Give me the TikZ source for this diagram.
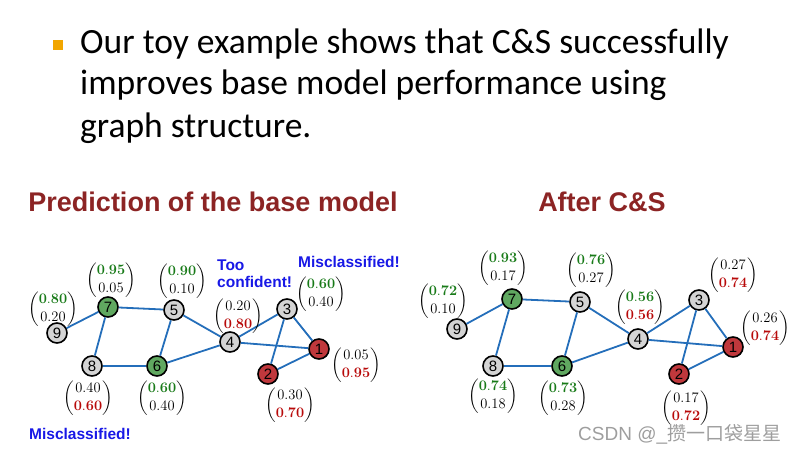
\RequirePackage{fix-cm}
\documentclass[tikz,border=0pt]{standalone}
\usepackage{amsmath}
\usepackage[no-math]{fontspec}
\setmainfont{Carlito}
\newfontfamily\arialfont{Liberation Sans}
\newfontfamily\cjkfont{Noto Sans CJK SC}
\usetikzlibrary{positioning}

\definecolor{edgeblue}{RGB}{36,110,186}
\definecolor{nodegray}{RGB}{212,212,212}
\definecolor{nodegreen}{RGB}{96,168,96}
\definecolor{nodered}{RGB}{192,56,60}
\definecolor{probgreen}{RGB}{24,122,24}
\definecolor{probred}{RGB}{184,10,10}
\definecolor{titlered}{RGB}{140,36,36}
\definecolor{noteblue}{RGB}{24,24,230}
\definecolor{bulletorange}{RGB}{242,166,0}

% class probabilities: green = class A, red = class B
\newcommand{\hi}[1]{\textcolor{probgreen}{\mathbf{#1}}}
\newcommand{\lo}[1]{\textcolor{probred}{\mathbf{#1}}}
\newcommand{\pvec}[2]{$\begin{pmatrix}#1\\#2\end{pmatrix}$}

\begin{document}
\begin{tikzpicture}[x=1pt,y=-1pt,
    vtx/.style={circle,draw,line width=1.6pt,minimum size=20pt,inner sep=0pt,
        font=\arialfont\fontsize{15}{15}\selectfont},
    gvtx/.style={vtx,fill=nodegray},
    avtx/.style={vtx,fill=nodegreen},
    bvtx/.style={vtx,fill=nodered},
    prob/.style={inner sep=0pt,font=\fontsize{14.5}{17.5}\selectfont},
    note/.style={inner sep=0pt,align=left,text=noteblue,
        font=\arialfont\bfseries\fontsize{15.5}{17}\selectfont},
    heading/.style={inner sep=0pt,text=titlered,
        font=\arialfont\bfseries\fontsize{27}{27}\selectfont},
    bodyline/.style={anchor=base west,inner sep=0pt,
        font=\fontsize{35.5}{42}\selectfont},
    link/.style={draw=edgeblue,line width=1.8pt}]
    \useasboundingbox (0,0) rectangle (795,452);

    % bullet text
    \fill[bulletorange] (53,40) rectangle (63,50);
    \node[bodyline] (intro-1) at (80,53)  {Our toy example shows that C\&S successfully};
    \node[bodyline] (intro-2) at (80,95)  {improves base model performance using};
    \node[bodyline] (intro-3) at (80,137) {graph structure.};

    \node[heading] (head-b)  at (213,202) {Prediction of the base model};
    \node[heading] (head-cs) at (602,202) {After C\&S};

    % base model
    \node[gvtx] (b9) at (57,333)  {9};
    \node[avtx] (b7) at (108,307) {7};
    \node[gvtx] (b5) at (174,310) {5};
    \node[gvtx] (b8) at (92,366)  {8};
    \node[avtx] (b6) at (157,366) {6};
    \node[gvtx] (b4) at (230,342) {4};
    \node[gvtx] (b3) at (287,309) {3};
    \node[bvtx] (b1) at (319,349) {1};
    \node[bvtx] (b2) at (268,374) {2};

    \path[link] (b9) edge (b7)
        (b7) edge (b5) edge (b8)
        (b8) edge (b6)
        (b5) edge (b6) edge (b4)
        (b6) edge (b4)
        (b4) edge (b3) edge (b1)
        (b3) edge (b2) edge (b1)
        (b2) edge (b1);

    \node[prob] (p-b7) at (111,280) {\pvec{\hi{0.95}}{0.05}};
    \node[prob] (p-b5) at (182,281) {\pvec{\hi{0.90}}{0.10}};
    \node[prob] (p-b9) at (53,309)  {\pvec{\hi{0.80}}{0.20}};
    \node[prob] (p-b8) at (88,398)  {\pvec{0.40}{\lo{0.60}}};
    \node[prob] (p-b6) at (162,398) {\pvec{\hi{0.60}}{0.40}};
    \node[prob] (p-b4) at (238,316) {\pvec{0.20}{\lo{0.80}}};
    \node[prob] (p-b3) at (321,294) {\pvec{\hi{0.60}}{0.40}};
    \node[prob] (p-b1) at (356,365) {\pvec{0.05}{\lo{0.95}}};
    \node[prob] (p-b2) at (290,405) {\pvec{0.30}{\lo{0.70}}};

    \node[note,anchor=north west] (too) at (217,260) {Too\\confident!};
    \node[note] (miss-3) at (349,262) {Misclassified!};
    \node[note] (miss-8) at (80,434)  {Misclassified!};

    % after correct & smooth
    \node[gvtx] (cs9) at (457,329) {9};
    \node[avtx] (cs7) at (512,299) {7};
    \node[gvtx] (cs5) at (580,302) {5};
    \node[gvtx] (cs8) at (493,366) {8};
    \node[avtx] (cs6) at (562,366) {6};
    \node[gvtx] (cs4) at (638,339) {4};
    \node[gvtx] (cs3) at (699,300) {3};
    \node[bvtx] (cs1) at (733,347) {1};
    \node[bvtx] (cs2) at (679,374) {2};

    \path[link] (cs9) edge (cs7)
        (cs7) edge (cs5) edge (cs8)
        (cs8) edge (cs6)
        (cs5) edge (cs6) edge (cs4)
        (cs6) edge (cs4)
        (cs4) edge (cs3) edge (cs1)
        (cs3) edge (cs2) edge (cs1)
        (cs2) edge (cs1);

    \node[prob] (p-cs7) at (503,268) {\pvec{\hi{0.93}}{0.17}};
    \node[prob] (p-cs5) at (591,270) {\pvec{\hi{0.76}}{0.27}};
    \node[prob] (p-cs9) at (443,301) {\pvec{\hi{0.72}}{0.10}};
    \node[prob] (p-cs8) at (493,396) {\pvec{\hi{0.74}}{0.18}};
    \node[prob] (p-cs6) at (563,398) {\pvec{\hi{0.73}}{0.28}};
    \node[prob] (p-cs4) at (640,307) {\pvec{\hi{0.56}}{\lo{0.56}}};
    \node[prob] (p-cs3) at (733,275) {\pvec{0.27}{\lo{0.74}}};
    \node[prob] (p-cs1) at (765,328) {\pvec{0.26}{\lo{0.74}}};
    \node[prob] (p-cs2) at (686,408) {\pvec{0.17}{\lo{0.72}}};

    \node[inner sep=0pt,anchor=west,text=black!38,
        font=\arialfont\fontsize{19}{19}\selectfont] (mark) at (578,434)
        {CSDN @\_{\cjkfont 攒一口袋星星}};
\end{tikzpicture}
\end{document}
